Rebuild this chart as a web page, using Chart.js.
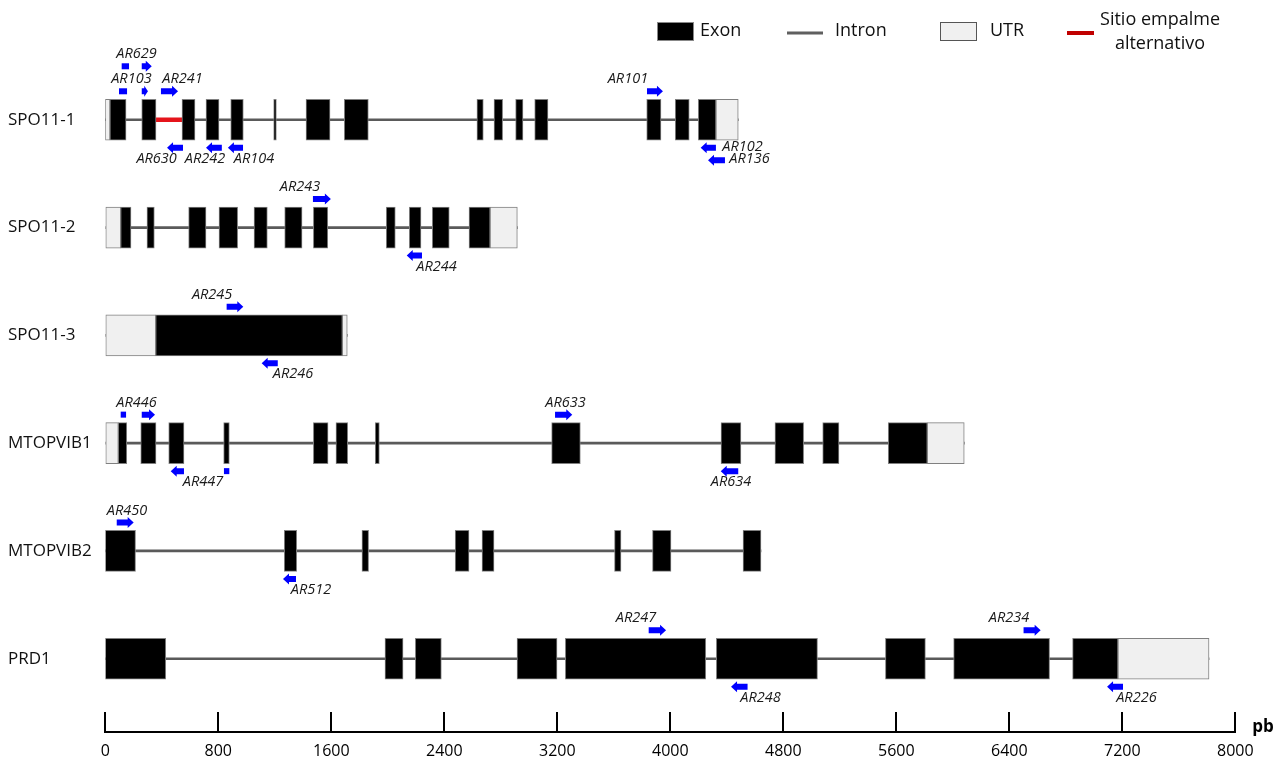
<!DOCTYPE html>
<html><head><meta charset="utf-8">
<script src="https://cdn.jsdelivr.net/npm/chart.js@4.4.0/dist/chart.umd.min.js"></script>
<style>html,body{margin:0;padding:0;background:#fff;}#wrap{position:relative;width:1288px;height:767px;}</style>
</head><body><div id="wrap"><canvas id="c" width="1288" height="767"></canvas></div>
<script>
// ---------- data (bp) ----------
const genes = ['SPO11-1','SPO11-2','SPO11-3','MTOPVIB1','MTOPVIB2','PRD1'];
const xTickStep = 800;
const xMax = 8000;

const spo11_1_exons = [[33,147],[258,359],[543,635],[713,805],[888,977],[1192,1211],[1421,1591],[1692,1862],[2631,2676],[2752,2813],[2905,2957],[3040,3134],[3833,3934],[4035,4134],[4198,4323]];
const spo11_1_utr   = [[0,33],[4323,4481]];
const spo11_1_alt   = [[359,543]];
const spo11_2_exons = [[109,182],[295,347],[590,713],[805,937],[1053,1147],[1270,1393],[1473,1575],[1989,2053],[2152,2235],[2315,2435],[2575,2724]];
const spo11_2_utr   = [[3,109],[2724,2917]];
const spo11_3_exons = [[357,1678]];
const spo11_3_utr   = [[3,357],[1678,1713]];
const mtopvib1_exons = [[92,152],[251,359],[449,557],[838,878],[1473,1577],[1633,1716],[1911,1940],[3160,3363],[4359,4500],[4741,4944],[5079,5194],[5543,5819]];
const mtopvib1_utr   = [[3,92],[5819,6081]];
const mtopvib2_exons = [[0,214],[1267,1355],[1817,1864],[2477,2575],[2667,2752],[3605,3651],[3874,4005],[4515,4642]];
const mtopvib2_utr   = [];
const prd1_exons = [[0,428],[1980,2108],[2195,2379],[2915,3198],[3257,4251],[4326,5042],[5523,5806],[6006,6685],[6848,7169]];
const prd1_utr   = [[7169,7814]];

const exonsByGene = [spo11_1_exons, spo11_2_exons, spo11_3_exons, mtopvib1_exons, mtopvib2_exons, prd1_exons];
const utrByGene   = [spo11_1_utr, spo11_2_utr, spo11_3_utr, mtopvib1_utr, mtopvib2_utr, prd1_utr];
const altByGene   = [spo11_1_alt, [], [], [], [], []];

// primer markers: gene, from, to, kind (f=forward, r=reverse, s=square), side, row
const markerGene = [0,0,0,0,0,0,0,0,0,0,0, 1,1, 2,2, 3,3,3,3,3,3, 4,4, 5,5,5,5];
const markerFrom = [116,258,97,258,394,437,713,868,3835,4215,4267, 1470,2134, 859,1107, 109,258,463,840,3184,4357, 81,1258, 3847,4430,6501,7092];
const markerTo   = [168,329,154,302,515,550,825,975,3948,4323,4387, 1597,2242, 977,1221, 147,352,557,878,3306,4481, 201,1350, 3970,4547,6622,7205];
const markerKind = ['s','f','s','f','f','r','r','r','f','r','r', 'f','r', 'f','r', 's','f','r','s','f','r', 'f','r', 'f','r','f','r'];
const markerSide = ['up','up','up','up','up','down','down','down','up','down','down', 'up','down', 'up','down', 'up','up','down','down','up','down', 'up','down', 'up','down','up','down'];
const markerRow  = [1,1,0,0,0,0,0,0,0,0,1, 0,0, 0,0, 0,0,0,0,0,0, 0,0, 0,0,0,0];

// primer labels: text, gene, centre (bp), side, row, mode
const primerLabel = ['AR629','AR103','AR241','AR630','AR242','AR104','AR101','AR102','AR136','AR243','AR244','AR245','AR246','AR446','AR447','AR633','AR634','AR450','AR512','AR247','AR248','AR234','AR226'];
const labelGene   = [0,0,0,0,0,0,0,0,0, 1,1, 2,2, 3,3,3,3, 4,4, 5,5,5,5];
const labelAt     = [221,185,547,363,706,1053,3700,4511,4561, 1378,2345, 756,1329, 221,692,3258,4430, 154,1456, 3757,4639,6398,7300];
const labelSide   = ['up','up','up','down','down','down','up','down','down', 'up','down', 'up','down', 'up','down','up','down', 'up','down', 'up','down','up','down'];
const labelRow    = [1,0,0,0,0,0,0,0,1, 0,0, 0,0, 0,0,0,0, 0,0, 0,0,0,0];
const labelMode   = ['text','text','text','text','text','text','text','beside','beside', 'text','text','text','text','text','text','text','text','text','text','text','text','text','text'];

// ---------- build datasets ----------
function toBars(groups){ const out=[]; groups.forEach((g,i)=>g.forEach(r=>out.push({x:[r[0],r[1]], y:i}))); return out; }
const intronData = exonsByGene.map((ex,i)=>{
  const all = ex.concat(utrByGene[i]);
  const lo = Math.min(...all.map(r=>r[0])), hi = Math.max(...all.map(r=>r[1]));
  return {x:[lo,hi], y:i};
});

const FONT = "'Open Sans', 'DejaVu Sans', sans-serif";

const overlay = {
  id:'overlay',
  afterDraw(chart){
    const ctx = chart.ctx, xs = chart.scales.x, ys = chart.scales.y, ca = chart.chartArea;
    const half = 20.5;
    ctx.save();
    // axis ticks pointing up
    ctx.strokeStyle = '#000'; ctx.lineWidth = 2;
    xs.ticks.forEach(t=>{ const px = Math.round(xs.getPixelForValue(t.value)); ctx.beginPath(); ctx.moveTo(px, ca.bottom-20); ctx.lineTo(px, ca.bottom); ctx.stroke(); });
    ctx.fillStyle = '#000'; ctx.font = "bold 17px "+FONT; ctx.textAlign='left'; ctx.textBaseline='middle';
    ctx.fillText('pb', ca.right+17, ca.bottom-5);

    // primer markers
    const markerY = (g, side, row) => {
      const c = ys.getPixelForValue(g);
      if (side==='up') return c - half - (row ? 33 : 8);
      return c + half + (row ? 20 : 7.5);
    };
    ctx.fillStyle = '#0000ff';
    markerGene.forEach((g,i)=>{
      const x0 = xs.getPixelForValue(markerFrom[i]), x1 = xs.getPixelForValue(markerTo[i]);
      const y = markerY(g, markerSide[i], markerRow[i]);
      const k = markerKind[i];
      if (k==='s'){ ctx.fillRect(x0, y-3, x1-x0, 6); return; }
      const len = x1-x0, head = Math.min(6, len*0.6), bh = 3, hh = 5.5;
      ctx.beginPath();
      if (k==='f'){
        ctx.moveTo(x0,y-bh); ctx.lineTo(x1-head,y-bh); ctx.lineTo(x1-head,y-hh); ctx.lineTo(x1,y);
        ctx.lineTo(x1-head,y+hh); ctx.lineTo(x1-head,y+bh); ctx.lineTo(x0,y+bh);
      } else {
        ctx.moveTo(x1,y-bh); ctx.lineTo(x0+head,y-bh); ctx.lineTo(x0+head,y-hh); ctx.lineTo(x0,y);
        ctx.lineTo(x0+head,y+hh); ctx.lineTo(x0+head,y+bh); ctx.lineTo(x1,y+bh);
      }
      ctx.closePath(); ctx.fill();
    });
    // primer labels
    ctx.fillStyle = '#1a1a1a'; ctx.font = "italic 14.5px "+FONT; ctx.textAlign='center'; ctx.textBaseline='middle';
    primerLabel.forEach((t,i)=>{
      const x = xs.getPixelForValue(labelAt[i]);
      const my = markerY(labelGene[i], labelSide[i], labelRow[i]);
      let y;
      if (labelMode[i]==='beside') y = my - 1;
      else if (labelSide[i]==='up') y = my - 12;
      else y = my + 11;
      ctx.fillText(t, x, y);
    });

    // legend
    ctx.font = "18px "+FONT; ctx.textAlign='left';
    ctx.fillStyle='#000'; ctx.fillRect(657,22,37,19);
    ctx.strokeStyle='#888'; ctx.lineWidth=1; ctx.strokeRect(657.5,22.5,36,18);
    ctx.fillStyle='#111'; ctx.fillText('Exon', 700, 31);
    ctx.strokeStyle='#5f5f5f'; ctx.lineWidth=3; ctx.beginPath(); ctx.moveTo(787,33); ctx.lineTo(823,33); ctx.stroke();
    ctx.fillText('Intron', 835, 31);
    ctx.fillStyle='#f0f0f0'; ctx.fillRect(940,22,37,19);
    ctx.strokeStyle='#555'; ctx.lineWidth=1; ctx.strokeRect(940.5,22.5,36,18);
    ctx.fillStyle='#111'; ctx.fillText('UTR', 990, 31);
    ctx.strokeStyle='#c00000'; ctx.lineWidth=4; ctx.beginPath(); ctx.moveTo(1067,33); ctx.lineTo(1094,33); ctx.stroke();
    ctx.textAlign='center';
    ctx.fillText('Sitio empalme', 1160, 20);
    ctx.fillText('alternativo', 1160, 44);
    ctx.restore();
  }
};

new Chart(document.getElementById('c').getContext('2d'), {
  type:'bar',
  data:{ datasets:[
    { label:'Intron', data:intronData, backgroundColor:'#5a5a5a', borderWidth:0, barThickness:2, grouped:false, order:4 },
    { label:'Sitio empalme alternativo', data:toBars(altByGene), backgroundColor:'#e5141b', borderWidth:0, barThickness:4, grouped:false, order:3 },
    { label:'UTR', data:toBars(utrByGene), backgroundColor:'#f0f0f0', borderColor:'#808080', borderWidth:1, borderSkipped:false, barThickness:41, grouped:false, order:2 },
    { label:'Exon', data:toBars(exonsByGene), backgroundColor:'#000', borderColor:'#808080', borderWidth:1, borderSkipped:false, barThickness:41, grouped:false, order:1 }
  ]},
  options:{
    indexAxis:'y', responsive:false, animation:false, devicePixelRatio:1,
    layout:{padding:{left:8, right:52.7, top:12, bottom:0}},
    plugins:{legend:{display:false}, tooltip:{enabled:false}},
    scales:{
      x:{ type:'linear', min:0, max:xMax, position:'bottom', offset:false,
          ticks:{stepSize:xTickStep, padding:10, color:'#000', maxRotation:0, autoSkip:false, font:{family:FONT, size:16}, callback:(v)=>String(v)},
          grid:{display:false, drawTicks:false}, border:{display:true, color:'#000', width:2},
          afterFit:s=>{ s.height = 35; } },
      y:{ type:'linear', reverse:true, min:-1, max:5.68, position:'left', offset:false,
          afterBuildTicks:s=>{ s.ticks = genes.map((g,i)=>({value:i})); },
          ticks:{crossAlign:'far', padding:0, color:'#111', font:{family:FONT, size:17}, callback:(v)=>genes[v] ?? ''},
          grid:{display:false, drawTicks:false, offset:false}, border:{display:false},
          afterFit:s=>{ s.width = 97.3; s.paddingTop = 0; s.paddingBottom = 0; } }
    }
  },
  plugins:[overlay]
});
</script></body></html>
